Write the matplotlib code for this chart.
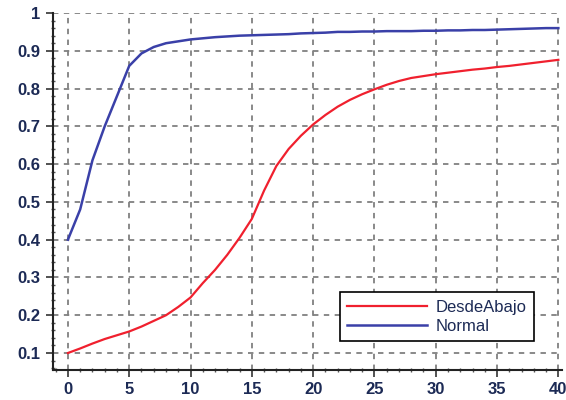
import matplotlib
matplotlib.use("Agg")
import matplotlib.pyplot as plt
from matplotlib.ticker import MultipleLocator

x = list(range(0, 41))
desde_abajo = [0.100, 0.112, 0.125, 0.137, 0.147, 0.157, 0.170, 0.185, 0.200, 0.222,
               0.247, 0.285, 0.320, 0.360, 0.405, 0.455, 0.530, 0.595, 0.640, 0.675,
               0.705, 0.730, 0.752, 0.770, 0.785, 0.798, 0.810, 0.820, 0.828, 0.833,
               0.838, 0.842, 0.846, 0.850, 0.853, 0.857, 0.860, 0.864, 0.868, 0.872,
               0.876]
normal = [0.400, 0.480, 0.610, 0.700, 0.780, 0.860, 0.893, 0.910, 0.920, 0.925,
          0.930, 0.933, 0.936, 0.938, 0.940, 0.941, 0.942, 0.943, 0.944, 0.946,
          0.947, 0.948, 0.950, 0.950, 0.951, 0.951, 0.952, 0.952, 0.952, 0.953,
          0.953, 0.954, 0.954, 0.955, 0.955, 0.956, 0.957, 0.958, 0.959, 0.960,
          0.960]
labels = ["DesdeAbajo", "Normal"]

plt.rcParams['font.family'] = ['Liberation Sans', 'DejaVu Sans']
fig = plt.figure(figsize=(5.66, 4.0), dpi=100)
ax = fig.add_axes([0.094, 0.075, 0.899, 0.8925])

ax.plot(x, desde_abajo, color="#f0202e", lw=1.6, label=labels[0])
ax.plot(x, normal, color="#3a40a8", lw=1.8, label=labels[1])

ax.set_xlim(-1.2, 40.3)
ax.set_ylim(0.055, 1.0)
ax.xaxis.set_major_locator(MultipleLocator(5))
ax.xaxis.set_minor_locator(MultipleLocator(1))
ax.yaxis.set_minor_locator(MultipleLocator(0.02))
ax.set_yticks([0.1, 0.2, 0.3, 0.4, 0.5, 0.6, 0.7, 0.8, 0.9, 1.0])
ax.set_yticklabels(["0.1", "0.2", "0.3", "0.4", "0.5", "0.6", "0.7", "0.8", "0.9", "1"])

for s in ["top", "right"]:
    ax.spines[s].set_visible(False)
for s in ["left", "bottom"]:
    ax.spines[s].set_linewidth(1.5)
    ax.spines[s].set_color("#222222")

ax.tick_params(which="major", length=5, width=1.2, color="#333333",
               labelsize=12, labelcolor="#1c2a55", direction="out", pad=4)
ax.tick_params(which="minor", length=3, width=1.0, color="#555555", direction="inout")
for lab in ax.get_xticklabels() + ax.get_yticklabels():
    lab.set_fontweight("bold")

ax.grid(True, which="major", color="#808080", linestyle=(0, (3, 3)), linewidth=1.3)

leg = ax.legend(loc="lower right", bbox_to_anchor=(0.945, 0.08), fancybox=False,
                edgecolor="black", framealpha=1, fontsize=12, handlelength=4.8,
                borderpad=0.45, labelspacing=0.25, handletextpad=0.5, borderaxespad=0)
leg.get_frame().set_linewidth(1.2)
for t in leg.get_texts():
    t.set_color("#1c2a55")

fig.savefig("out.png", dpi=100)
